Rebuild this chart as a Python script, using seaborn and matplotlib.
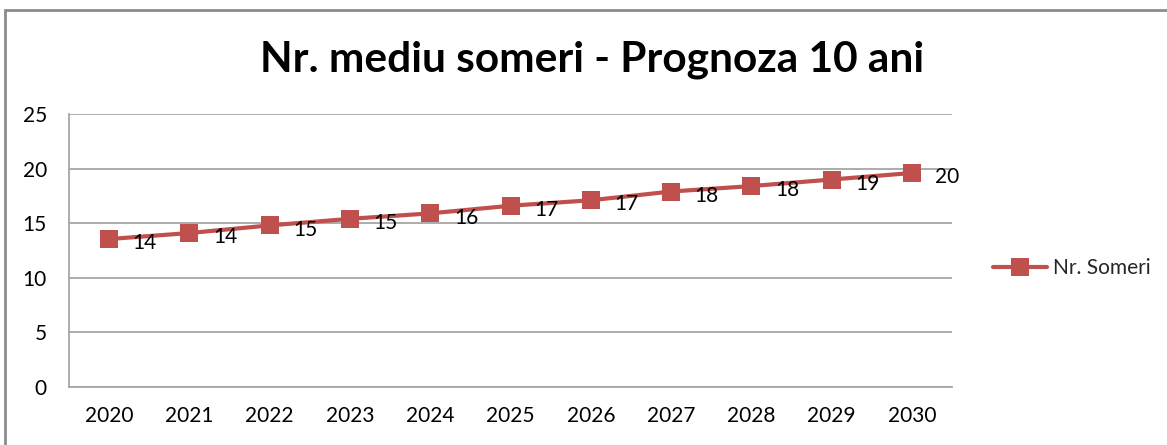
import matplotlib
matplotlib.use("Agg")
import matplotlib.pyplot as plt
import seaborn as sns
import pandas as pd
from matplotlib.patches import Rectangle

years = ["2020", "2021", "2022", "2023", "2024", "2025", "2026", "2027", "2028", "2029", "2030"]
somer = [13.55, 14.1, 14.8, 15.4, 15.9, 16.6, 17.1, 17.9, 18.4, 19.0, 19.6]
series_name = "Nr. Someri"
title = "Nr. mediu someri - Prognoza 10 ani"
yticks = [0, 5, 10, 15, 20, 25]

sns.set_theme(style="white")
plt.rcParams['font.family'] = ['Lato', 'DejaVu Sans']

W, H = 1167, 445
fig = plt.figure(figsize=(W / 100, H / 100), dpi=100)
ax = fig.add_axes([69 / W, 1 - 387 / H, (952 - 69) / W, (387 - 114) / H])

df = pd.DataFrame({"year": years, "value": somer, "series": series_name})
red = "#C0504D"
sns.lineplot(data=df, x="year", y="value", hue="series", palette=[red], marker="s",
             markersize=13.5, markeredgewidth=0, linewidth=3, ax=ax, sort=False)

ax.set_xlim(-0.5, len(years) - 0.5)
ax.set_ylim(0, 25)
ax.set_yticks(yticks)
ax.set_xlabel("")
ax.set_ylabel("")
ax.yaxis.grid(True, color="#A6A6A6", linewidth=1.3)
ax.xaxis.grid(False)
for s in ["top", "right"]:
    ax.spines[s].set_visible(False)
for s in ["left", "bottom"]:
    ax.spines[s].set_color("#A6A6A6")
    ax.spines[s].set_linewidth(1.3)
ax.tick_params(axis="both", labelsize=15, colors="black", length=0)
ax.tick_params(axis="y", pad=16)
ax.tick_params(axis="x", pad=14)

for i, v in enumerate(somer):
    ax.annotate(f"{v:.0f}", (i, v), xytext=(17, -3), textcoords="offset points",
                ha="left", va="center", fontsize=15, color="black")

leg = ax.legend(loc="center left", bbox_to_anchor=(1.03, 0.435), frameon=False,
                fontsize=15, handlelength=2.6, handletextpad=0.3, borderpad=0.2)

fig.text(592 / W, 1 - 60 / H, title, ha="center", va="center", fontsize=30.5,
         fontweight="bold", color="black")

fig.patches.append(Rectangle((5 / W, -0.1), 1.2, 1 - 10 / H + 0.1, transform=fig.transFigure,
                             fill=False, edgecolor="#8C8C8C", linewidth=2))

fig.savefig("out.png", dpi=100)
